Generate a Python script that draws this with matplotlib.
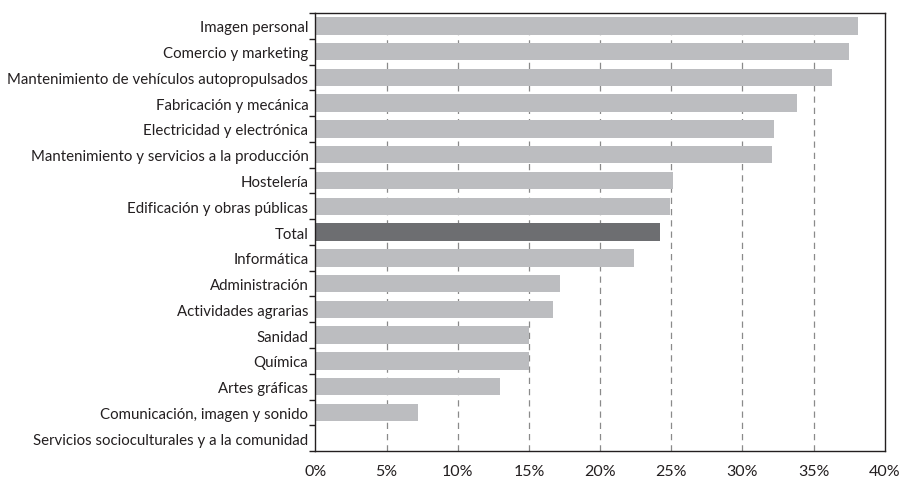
import numpy as np
import matplotlib
matplotlib.use("Agg")
import matplotlib.pyplot as plt
from matplotlib.ticker import FuncFormatter

categorias = [
    "Imagen personal",
    "Comercio y marketing",
    "Mantenimiento de vehículos autopropulsados",
    "Fabricación y mecánica",
    "Electricidad y electrónica",
    "Mantenimiento y servicios a la producción",
    "Hostelería",
    "Edificación y obras públicas",
    "Total",
    "Informática",
    "Administración",
    "Actividades agrarias",
    "Sanidad",
    "Química",
    "Artes gráficas",
    "Comunicación, imagen y sonido",
    "Servicios socioculturales y a la comunidad",
]
porcentajes = [38.1, 37.5, 36.3, 33.8, 32.2, 32.1, 25.1, 24.9, 24.2, 22.4,
               17.2, 16.7, 15.0, 15.0, 13.0, 7.2, 0.0]
x_ticks = [0, 5, 10, 15, 20, 25, 30, 35, 40]

plt.rcParams['font.family'] = ['Lato', 'DejaVu Sans']

fig = plt.figure(figsize=(9.01, 4.81), dpi=100)
ax = fig.add_axes([0.35, 0.06, 0.632, 0.911])

pos = np.arange(len(categorias))
colores = ["#6d6e71" if c == "Total" else "#bcbdc0" for c in categorias]
ax.barh(pos, porcentajes, height=0.68, color=colores, zorder=2)

ax.set_xlim(0, 40)
ax.set_ylim(len(categorias) - 0.5, -0.5)

# grid dashed lines
for t in x_ticks[1:-1]:
    ax.axvline(t, color="#8a8a8a", lw=0.9, ls=(0, (5, 4)), zorder=1)

ax.set_xticks(x_ticks)
ax.xaxis.set_major_formatter(FuncFormatter(lambda v, p: f"{int(v)}%"))
ax.tick_params(axis="x", length=0, pad=9, labelsize=11.5, colors="#231f20")

# ticks between categories, labels at centres
ax.set_yticks(np.arange(-0.5, len(categorias) + 0.5, 1.0))
ax.set_yticklabels([])
ax.set_yticks(pos, minor=True)
ax.set_yticklabels(categorias, minor=True)
ax.tick_params(axis="y", which="major", length=4, width=1, direction="out", color="#231f20")
ax.tick_params(axis="y", which="minor", length=0, pad=5, labelsize=10.8, labelcolor="#231f20")

for s in ax.spines.values():
    s.set_color("#231f20")
    s.set_linewidth(1.0)

fig.savefig("out.png", dpi=100)
